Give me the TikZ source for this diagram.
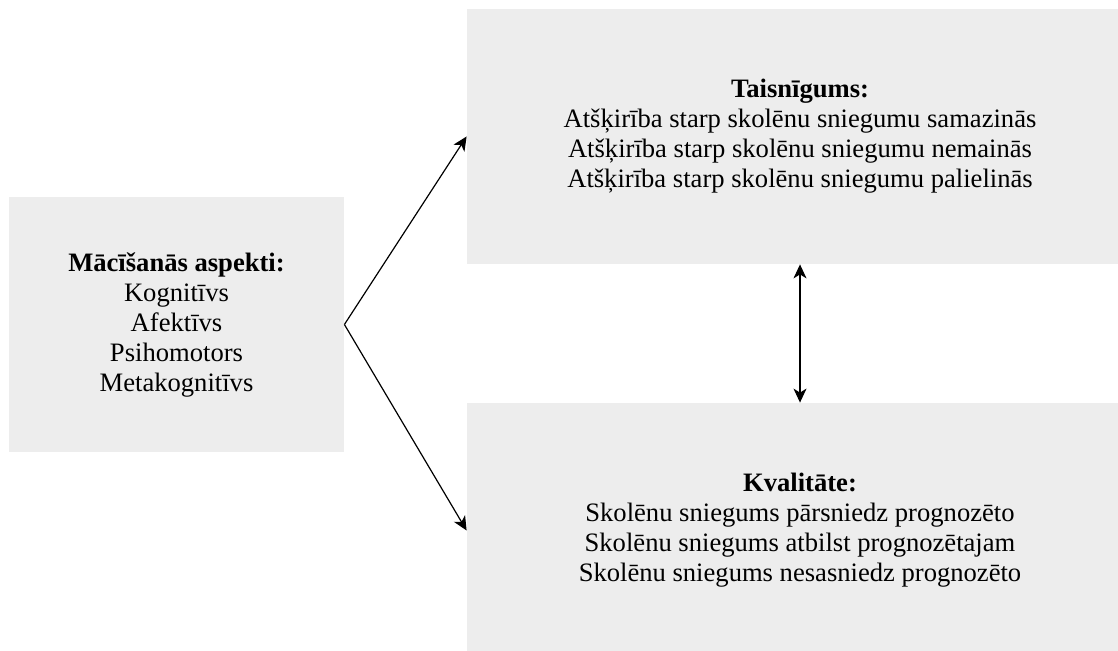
\documentclass[tikz,border=0pt]{standalone}
\usepackage{fontspec}
\setmainfont{Liberation Serif}
\usetikzlibrary{arrows.meta}
\definecolor{boxgray}{RGB}{237,237,237}
\begin{document}
\begin{tikzpicture}[x=0.5pt,y=-0.5pt,
  panel/.style={fill=boxgray, draw=none, inner sep=0pt, align=center,
    font=\fontsize{13.3pt}{15pt}\selectfont},
  tip/.tip={Stealth[length=7pt,width=6.5pt,inset=2pt]},
  link/.style={line width=0.6pt, -tip},
  twoway/.style={line width=0.6pt, tip-tip}]
  \clip (0,0) rectangle (1118,651);
  \fill[white] (0,0) rectangle (1118,651);
  \node[panel, minimum width=167.5pt, minimum height=127.5pt] (aspects) at (176.5,324.5)
    {\textbf{Mācīšanās aspekti:}\\Kognitīvs\\Afektīvs\\Psihomotors\\Metakognitīvs};
  \node[panel, minimum width=333pt, minimum height=127.5pt] (equity) at (800,136.5)
    {\textbf{Taisnīgums:}\\Atšķirība starp skolēnu sniegumu samazinās\\Atšķirība starp skolēnu sniegumu nemainās\\Atšķirība starp skolēnu sniegumu palielinās};
  \node[panel, minimum width=333pt, minimum height=127.5pt] (quality) at (800,530.5)
    {\textbf{Kvalitāte:}\\Skolēnu sniegums pārsniedz prognozēto\\Skolēnu sniegums atbilst prognozētajam\\Skolēnu sniegums nesasniedz prognozēto};
  \draw[link] (aspects.east) -- (equity.west);
  \draw[link] (aspects.east) -- (quality.west);
  \draw[twoway] (equity.south) -- (quality.north);
\end{tikzpicture}
\end{document}
